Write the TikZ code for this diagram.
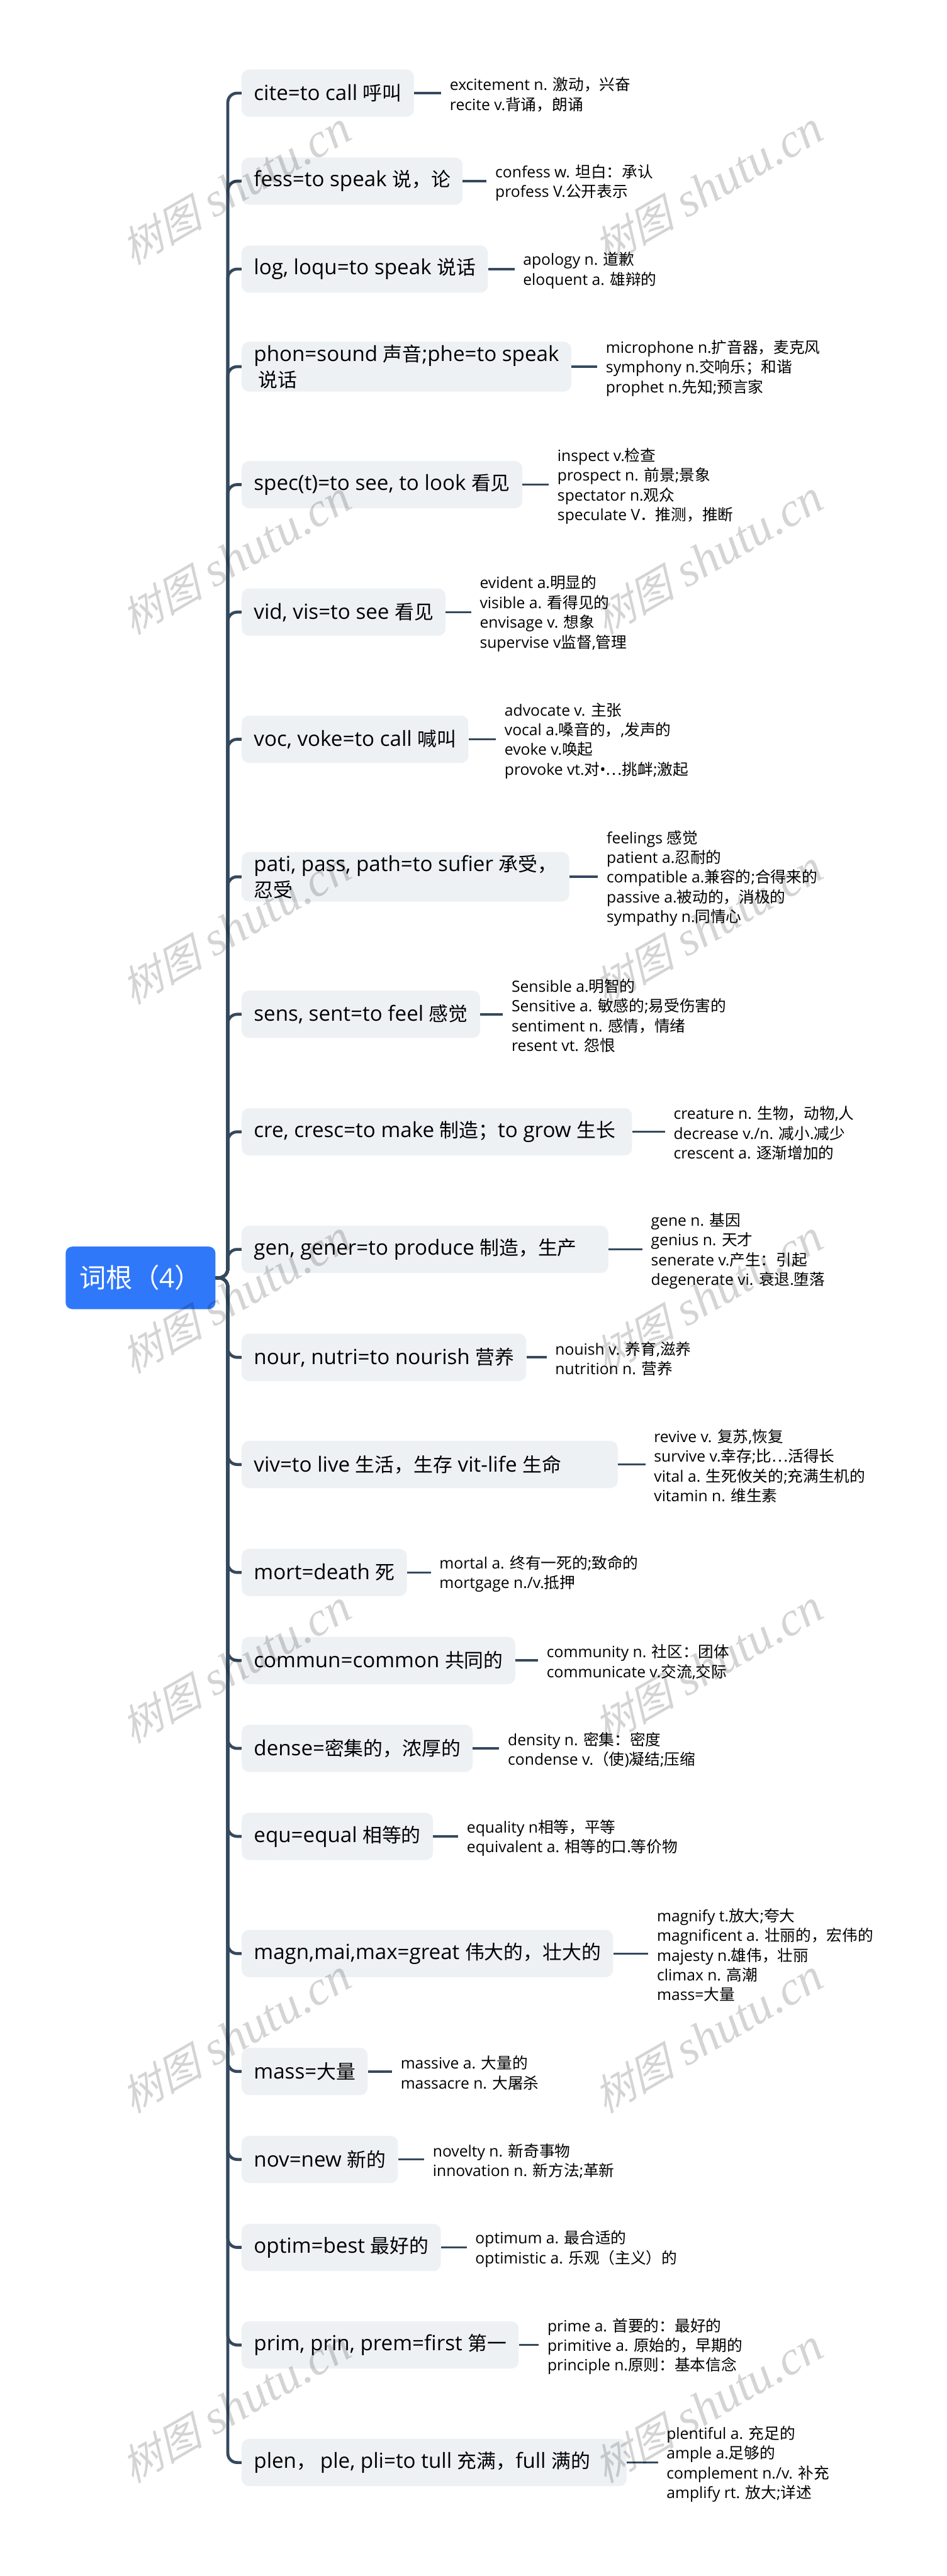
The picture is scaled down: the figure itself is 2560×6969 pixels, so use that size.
\documentclass[tikz,border=0pt]{standalone}
\usepackage{fontspec}
\usepackage{xcolor}
\setmainfont{Open Sans}
\newfontfamily\zhfont{Noto Sans CJK SC}
\newfontfamily\zhtight[Scale=0.93]{Noto Sans CJK SC}
\newfontfamily\wmzhfont[FakeSlant=0.3, Scale=0.86]{Noto Sans CJK SC}
\newfontfamily\wmfont{Liberation Serif}
% Chinese characters switch font by themselves
\XeTeXinterchartokenstate=1
\newXeTeXintercharclass\zhclass
\count255="2E80
\loop\XeTeXcharclass\count255=\zhclass\ifnum\count255<"9FFF\advance\count255 by 1\repeat
\count255="FF00
\loop\XeTeXcharclass\count255=\zhclass\ifnum\count255<"FFEF\advance\count255 by 1\repeat
\XeTeXcharclass"2026=\zhclass
\XeTeXinterchartoks 0 \zhclass={\begingroup\zhfont}
\XeTeXinterchartoks 4095 \zhclass={\begingroup\zhfont}
\XeTeXinterchartoks \zhclass 0={\endgroup}
\XeTeXinterchartoks \zhclass 4095={\endgroup}
\definecolor{rootblue}{HTML}{3078FA}
\definecolor{boxgray}{HTML}{EEF1F4}
\definecolor{linedark}{HTML}{34495E}
\tikzset{
    rootbox/.style={fill=rootblue, text=white, rounded corners=9pt, anchor=west, minimum width=200.5pt, minimum height=84.5pt, inner xsep=19pt, font=\fontsize{36}{44}\selectfont},
    rootword/.style={fill=boxgray, rounded corners=10pt, anchor=west, minimum height=64pt, inner xsep=16.5pt, inner ysep=4pt, align=left, font={\let\zhfont\zhtight\fontsize{28.2}{35}\selectfont}},
    leaf/.style={anchor=west, yshift=-2pt, inner xsep=11.5pt, inner ysep=0pt, align=left, font=\fontsize{21}{26.75}\selectfont},
    branch/.style={draw=linedark, line width=4pt, rounded corners=12.5pt},
    stem/.style={draw=linedark, line width=3pt},
    watermark/.style={rotate=30, text=black, opacity=0.17, inner sep=0pt, font={\let\zhfont\wmzhfont\fontsize{65}{70}\selectfont\wmfont\itshape}}
}

\begin{document}
\begin{tikzpicture}[x=0.5pt, y=-0.5pt]
    \useasboundingbox (0,0) rectangle (2560,6969);
    \fill[white] (0,0) rectangle (2560,6969);
    \node[rootbox] (root) at (177,3457) {词根（4）};
    \coordinate (spine) at (616,3457);

    \node[rootword] (cite) at (653,252) {cite=to call 呼叫};
    \node[rootword] (fess) at (653,490) {fess=to speak 说，论};
    \node[rootword] (log) at (653,728) {log, loqu=to speak 说话};
    \node[rootword] (phon) at (653,992) {phon=sound 声音;phe=to speak\\ \hspace{6pt}说话};
    \node[rootword] (spec) at (653,1311) {spec(t)=to see, to look 看见};
    \node[rootword] (vid) at (653,1656) {vid, vis=to see 看见};
    \node[rootword] (voc) at (653,2000) {voc, voke=to call 喊叫};
    \node[rootword] (pati) at (653,2372) {pati, pass, path=to sufier 承受，\\忍受};
    \node[rootword] (sens) at (653,2744) {sens, sent=to feel 感觉};
    \node[rootword] (cre) at (653,3062) {cre, cresc=to make 制造；to grow 生长\hspace*{6pt}};
    \node[rootword] (gen) at (653,3380) {gen, gener=to produce 制造，生产\hspace*{26pt}};
    \node[rootword] (nour) at (653,3672) {nour, nutri=to nourish 营养};
    \node[rootword] (viv) at (653,3962) {viv=to live 生活，生存 vit-life 生命\hspace*{60pt}};
    \node[rootword] (mort) at (653,4254) {mort=death 死};
    \node[rootword] (commun) at (653,4492) {commun=common 共同的};
    \node[rootword] (dense) at (653,4730) {dense=密集的，浓厚的};
    \node[rootword] (equ) at (653,4968) {equ=equal 相等的};
    \node[rootword] (magn) at (653,5285) {magn,mai,max=great 伟大的，壮大的};
    \node[rootword] (mass) at (653,5604) {mass=大量};
    \node[rootword] (nov) at (653,5842) {nov=new 新的};
    \node[rootword] (optim) at (653,6080) {optim=best 最好的};
    \node[rootword] (prim) at (653,6344) {prim, prin, prem=first 第一};
    \node[rootword] (plen) at (653,6662) {plen，\hspace{6pt}ple, pli=to tull 充满，full 满的\hspace*{33pt}};

    \node[leaf] (citeleaf) at (1193,252) {excitement n. 激动，兴奋\\recite v.背诵，朗诵};
    \node[leaf] (fessleaf) at (1316,490) {confess w. 坦白：承认\\profess V.公开表示};
    \node[leaf] (logleaf) at (1391,728) {apology n. 道歉\\eloquent a. 雄辩的};
    \node[leaf] (phonleaf) at (1615,992) {microphone n.扩音器，麦克风\\symphony n.交响乐；和谐\\prophet n.先知;预言家};
    \node[leaf] (specleaf) at (1484,1311) {inspect v.检查\\prospect n. 前景;景象\\spectator n.观众\\speculate V．推测，推断};
    \node[leaf] (vidleaf) at (1274,1656) {evident a.明显的\\visible a. 看得见的\\envisage v. 想象\\supervise v监督,管理};
    \node[leaf] (vocleaf) at (1341,2000) {advocate v. 主张\\vocal a.嗓音的，,发声的\\evoke v.唤起\\provoke vt.对•…挑衅;激起};
    \node[leaf] (patileaf) at (1617,2372) {feelings 感觉\\patient a.忍耐的\\compatible a.兼容的;合得来的\\passive a.被动的，消极的\\sympathy n.同情心};
    \node[leaf] (sensleaf) at (1360,2744) {Sensible a.明智的\\Sensitive a. 敏感的;易受伤害的\\sentiment n. 感情，情绪\\resent vt. 怨恨};
    \node[leaf] (creleaf) at (1798,3062) {creature n. 生物，动物,人\\decrease v./n. 减小.减少\\crescent a. 逐渐增加的};
    \node[leaf] (genleaf) at (1737,3380) {gene n. 基因\\genius n. 天才\\senerate v.产生：引起\\degenerate vi. 衰退.堕落};
    \node[leaf] (nourleaf) at (1478,3672) {nouish v. 养育,滋养\\nutrition n. 营养};
    \node[leaf] (vivleaf) at (1745,3962) {revive v. 复苏,恢复\\survive v.幸存;比…活得长\\vital a. 生死攸关的;充满生机的\\vitamin n. 维生素};
    \node[leaf] (mortleaf) at (1165,4254) {mortal a. 终有一死的;致命的\\mortgage n./v.抵押};
    \node[leaf] (communleaf) at (1455,4492) {community n. 社区：团体\\communicate v.交流,交际};
    \node[leaf] (denseleaf) at (1350,4730) {density n. 密集：密度\\condense v.（使)凝结;压缩};
    \node[leaf] (equleaf) at (1239,4968) {equality n相等，平等\\equivalent a. 相等的口.等价物};
    \node[leaf] (magnleaf) at (1753,5285) {magnify t.放大;夸大\\magnificent a. 壮丽的，宏伟的\\majesty n.雄伟，壮丽\\climax n. 高潮\\mass=大量};
    \node[leaf] (massleaf) at (1060,5604) {massive a. 大量的\\massacre n. 大屠杀};
    \node[leaf] (novleaf) at (1147,5842) {novelty n. 新奇事物\\innovation n. 新方法;革新};
    \node[leaf] (optimleaf) at (1262,6080) {optimum a. 最合适的\\optimistic a. 乐观（主义）的};
    \node[leaf] (primleaf) at (1457,6344) {prime a. 首要的：最好的\\primitive a. 原始的，早期的\\principle n.原则：基本信念};
    \node[leaf] (plenleaf) at (1779,6662) {plentiful a. 充足的\\ample a.足够的\\complement n./v. 补充\\amplify rt. 放大;详述};

    \draw[stem] (cite.east) -- (cite.east -| citeleaf.west);
    \draw[stem] (fess.east) -- (fess.east -| fessleaf.west);
    \draw[stem] (log.east) -- (log.east -| logleaf.west);
    \draw[stem] (phon.east) -- (phon.east -| phonleaf.west);
    \draw[stem] (spec.east) -- (spec.east -| specleaf.west);
    \draw[stem] (vid.east) -- (vid.east -| vidleaf.west);
    \draw[stem] (voc.east) -- (voc.east -| vocleaf.west);
    \draw[stem] (pati.east) -- (pati.east -| patileaf.west);
    \draw[stem] (sens.east) -- (sens.east -| sensleaf.west);
    \draw[stem] (cre.east) -- (cre.east -| creleaf.west);
    \draw[stem] (gen.east) -- (gen.east -| genleaf.west);
    \draw[stem] (nour.east) -- (nour.east -| nourleaf.west);
    \draw[stem] (viv.east) -- (viv.east -| vivleaf.west);
    \draw[stem] (mort.east) -- (mort.east -| mortleaf.west);
    \draw[stem] (commun.east) -- (commun.east -| communleaf.west);
    \draw[stem] (dense.east) -- (dense.east -| denseleaf.west);
    \draw[stem] (equ.east) -- (equ.east -| equleaf.west);
    \draw[stem] (magn.east) -- (magn.east -| magnleaf.west);
    \draw[stem] (mass.east) -- (mass.east -| massleaf.west);
    \draw[stem] (nov.east) -- (nov.east -| novleaf.west);
    \draw[stem] (optim.east) -- (optim.east -| optimleaf.west);
    \draw[stem] (prim.east) -- (prim.east -| primleaf.west);
    \draw[stem] (plen.east) -- (plen.east -| plenleaf.west);

    \draw[branch] (root.east) -- (spine) |- (cite.west);
    \draw[branch] (root.east) -- (spine) |- (fess.west);
    \draw[branch] (root.east) -- (spine) |- (log.west);
    \draw[branch] (root.east) -- (spine) |- (phon.west);
    \draw[branch] (root.east) -- (spine) |- (spec.west);
    \draw[branch] (root.east) -- (spine) |- (vid.west);
    \draw[branch] (root.east) -- (spine) |- (voc.west);
    \draw[branch] (root.east) -- (spine) |- (pati.west);
    \draw[branch] (root.east) -- (spine) |- (sens.west);
    \draw[branch] (root.east) -- (spine) |- (cre.west);
    \draw[branch] (root.east) -- (spine) |- (gen.west);
    \draw[branch] (root.east) -- (spine) |- (nour.west);
    \draw[branch] (root.east) -- (spine) |- (viv.west);
    \draw[branch] (root.east) -- (spine) |- (mort.west);
    \draw[branch] (root.east) -- (spine) |- (commun.west);
    \draw[branch] (root.east) -- (spine) |- (dense.west);
    \draw[branch] (root.east) -- (spine) |- (equ.west);
    \draw[branch] (root.east) -- (spine) |- (magn.west);
    \draw[branch] (root.east) -- (spine) |- (mass.west);
    \draw[branch] (root.east) -- (spine) |- (nov.west);
    \draw[branch] (root.east) -- (spine) |- (optim.west);
    \draw[branch] (root.east) -- (spine) |- (prim.west);
    \draw[branch] (root.east) -- (spine) |- (plen.west);

    \node[watermark] (wm1) at (637,509) {树图 shutu.cn};
    \node[watermark] (wm2) at (1914,509) {树图 shutu.cn};
    \node[watermark] (wm3) at (637,1509) {树图 shutu.cn};
    \node[watermark] (wm4) at (1914,1509) {树图 shutu.cn};
    \node[watermark] (wm5) at (637,2509) {树图 shutu.cn};
    \node[watermark] (wm6) at (1914,2509) {树图 shutu.cn};
    \node[watermark] (wm7) at (637,3509) {树图 shutu.cn};
    \node[watermark] (wm8) at (1914,3509) {树图 shutu.cn};
    \node[watermark] (wm9) at (637,4509) {树图 shutu.cn};
    \node[watermark] (wm10) at (1914,4509) {树图 shutu.cn};
    \node[watermark] (wm11) at (637,5509) {树图 shutu.cn};
    \node[watermark] (wm12) at (1914,5509) {树图 shutu.cn};
    \node[watermark] (wm13) at (637,6509) {树图 shutu.cn};
    \node[watermark] (wm14) at (1914,6509) {树图 shutu.cn};
\end{tikzpicture}
\end{document}
